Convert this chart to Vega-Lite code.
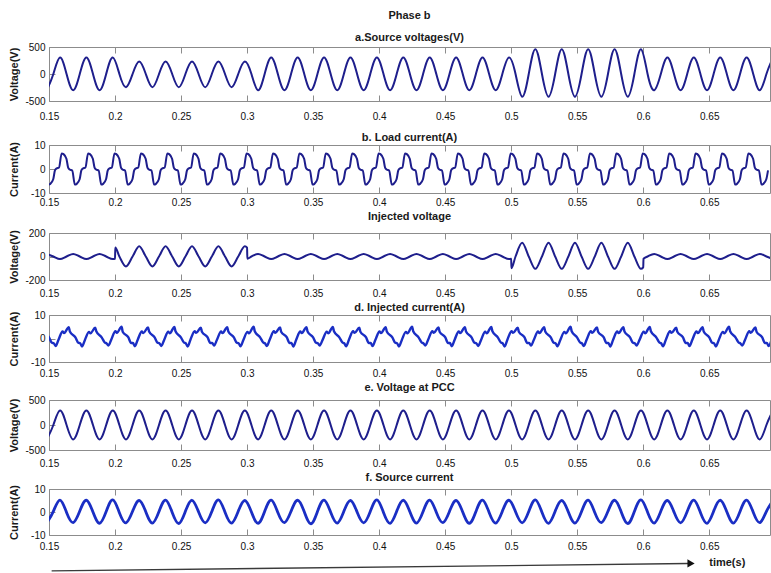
{"$schema":"https://vega.github.io/schema/vega-lite/v6.json","background":"white","padding":{"left":7,"top":9,"right":0,"bottom":0},"spacing":2,
"config":{"font":"Liberation Sans","view":{"stroke":"#8c8c8c","strokeWidth":1},"axis":{"domain":false,"ticks":false,"gridColor":"#8c8c8c","gridOpacity":1,"gridWidth":1,"labelFont":"Liberation Sans","labelFontSize":10,"labelColor":"#111111","titleFont":"Liberation Sans","titleFontSize":11,"titleFontWeight":"bold","titleColor":"#1a1a1a","labelFlush":false},"axisY":{"labelPadding":4,"minExtent":25,"maxExtent":25,"titlePadding":5},"title":{"font":"Liberation Sans","fontSize":11,"fontWeight":"bold","color":"#1a1a1a","anchor":"middle","frame":"group"}},
"datasets":{
"src":[{"t":0.1483,"v":-300},{"t":0.1533,"v":0},{"t":0.1583,"v":305},{"t":0.1633,"v":0},{"t":0.1683,"v":-300},{"t":0.1733,"v":0},{"t":0.1783,"v":305},{"t":0.1833,"v":0},{"t":0.1883,"v":-300},{"t":0.1933,"v":0},{"t":0.1983,"v":305},{"t":0.2033,"v":0},{"t":0.2083,"v":-245},{"t":0.2133,"v":0},{"t":0.2183,"v":232},{"t":0.2233,"v":0},{"t":0.2283,"v":-245},{"t":0.2333,"v":0},{"t":0.2383,"v":232},{"t":0.2433,"v":0},{"t":0.2483,"v":-245},{"t":0.2533,"v":0},{"t":0.2583,"v":232},{"t":0.2633,"v":0},{"t":0.2683,"v":-245},{"t":0.2733,"v":0},{"t":0.2783,"v":232},{"t":0.2833,"v":0},{"t":0.2883,"v":-245},{"t":0.2933,"v":0},{"t":0.2983,"v":232},{"t":0.3033,"v":0},{"t":0.3083,"v":-300},{"t":0.3133,"v":0},{"t":0.3183,"v":305},{"t":0.3233,"v":0},{"t":0.3283,"v":-300},{"t":0.3333,"v":0},{"t":0.3383,"v":305},{"t":0.3433,"v":0},{"t":0.3483,"v":-300},{"t":0.3533,"v":0},{"t":0.3583,"v":305},{"t":0.3633,"v":0},{"t":0.3683,"v":-300},{"t":0.3733,"v":0},{"t":0.3783,"v":305},{"t":0.3833,"v":0},{"t":0.3883,"v":-300},{"t":0.3933,"v":0},{"t":0.3983,"v":305},{"t":0.4033,"v":0},{"t":0.4083,"v":-300},{"t":0.4133,"v":0},{"t":0.4183,"v":305},{"t":0.4233,"v":0},{"t":0.4283,"v":-300},{"t":0.4333,"v":0},{"t":0.4383,"v":305},{"t":0.4433,"v":0},{"t":0.4483,"v":-300},{"t":0.4533,"v":0},{"t":0.4583,"v":305},{"t":0.4633,"v":0},{"t":0.4683,"v":-300},{"t":0.4733,"v":0},{"t":0.4783,"v":305},{"t":0.4833,"v":0},{"t":0.4883,"v":-300},{"t":0.4933,"v":0},{"t":0.4983,"v":305},{"t":0.5033,"v":0},{"t":0.5083,"v":-420},{"t":0.5133,"v":0},{"t":0.5183,"v":460},{"t":0.5233,"v":0},{"t":0.5283,"v":-420},{"t":0.5333,"v":0},{"t":0.5383,"v":460},{"t":0.5433,"v":0},{"t":0.5483,"v":-420},{"t":0.5533,"v":0},{"t":0.5583,"v":460},{"t":0.5633,"v":0},{"t":0.5683,"v":-420},{"t":0.5733,"v":0},{"t":0.5783,"v":460},{"t":0.5833,"v":0},{"t":0.5883,"v":-420},{"t":0.5933,"v":0},{"t":0.5983,"v":460},{"t":0.6033,"v":0},{"t":0.6083,"v":-300},{"t":0.6133,"v":0},{"t":0.6183,"v":305},{"t":0.6233,"v":0},{"t":0.6283,"v":-300},{"t":0.6333,"v":0},{"t":0.6383,"v":305},{"t":0.6433,"v":0},{"t":0.6483,"v":-300},{"t":0.6533,"v":0},{"t":0.6583,"v":305},{"t":0.6633,"v":0},{"t":0.6683,"v":-300},{"t":0.6733,"v":0},{"t":0.6783,"v":305},{"t":0.6833,"v":0},{"t":0.6883,"v":-300},{"t":0.6933,"v":0},{"t":0.6983,"v":305}],
"pcc":[{"t":0.1483,"v":-288},{"t":0.1533,"v":0},{"t":0.1583,"v":290},{"t":0.1633,"v":0},{"t":0.1683,"v":-288},{"t":0.1733,"v":0},{"t":0.1783,"v":290},{"t":0.1833,"v":0},{"t":0.1883,"v":-288},{"t":0.1933,"v":0},{"t":0.1983,"v":290},{"t":0.2033,"v":0},{"t":0.2083,"v":-288},{"t":0.2133,"v":0},{"t":0.2183,"v":290},{"t":0.2233,"v":0},{"t":0.2283,"v":-288},{"t":0.2333,"v":0},{"t":0.2383,"v":290},{"t":0.2433,"v":0},{"t":0.2483,"v":-288},{"t":0.2533,"v":0},{"t":0.2583,"v":290},{"t":0.2633,"v":0},{"t":0.2683,"v":-288},{"t":0.2733,"v":0},{"t":0.2783,"v":290},{"t":0.2833,"v":0},{"t":0.2883,"v":-288},{"t":0.2933,"v":0},{"t":0.2983,"v":290},{"t":0.3033,"v":0},{"t":0.3083,"v":-288},{"t":0.3133,"v":0},{"t":0.3183,"v":290},{"t":0.3233,"v":0},{"t":0.3283,"v":-288},{"t":0.3333,"v":0},{"t":0.3383,"v":290},{"t":0.3433,"v":0},{"t":0.3483,"v":-288},{"t":0.3533,"v":0},{"t":0.3583,"v":290},{"t":0.3633,"v":0},{"t":0.3683,"v":-288},{"t":0.3733,"v":0},{"t":0.3783,"v":290},{"t":0.3833,"v":0},{"t":0.3883,"v":-288},{"t":0.3933,"v":0},{"t":0.3983,"v":290},{"t":0.4033,"v":0},{"t":0.4083,"v":-288},{"t":0.4133,"v":0},{"t":0.4183,"v":290},{"t":0.4233,"v":0},{"t":0.4283,"v":-288},{"t":0.4333,"v":0},{"t":0.4383,"v":290},{"t":0.4433,"v":0},{"t":0.4483,"v":-288},{"t":0.4533,"v":0},{"t":0.4583,"v":290},{"t":0.4633,"v":0},{"t":0.4683,"v":-288},{"t":0.4733,"v":0},{"t":0.4783,"v":290},{"t":0.4833,"v":0},{"t":0.4883,"v":-288},{"t":0.4933,"v":0},{"t":0.4983,"v":290},{"t":0.5033,"v":0},{"t":0.5083,"v":-288},{"t":0.5133,"v":0},{"t":0.5183,"v":290},{"t":0.5233,"v":0},{"t":0.5283,"v":-288},{"t":0.5333,"v":0},{"t":0.5383,"v":290},{"t":0.5433,"v":0},{"t":0.5483,"v":-288},{"t":0.5533,"v":0},{"t":0.5583,"v":290},{"t":0.5633,"v":0},{"t":0.5683,"v":-288},{"t":0.5733,"v":0},{"t":0.5783,"v":290},{"t":0.5833,"v":0},{"t":0.5883,"v":-288},{"t":0.5933,"v":0},{"t":0.5983,"v":290},{"t":0.6033,"v":0},{"t":0.6083,"v":-288},{"t":0.6133,"v":0},{"t":0.6183,"v":290},{"t":0.6233,"v":0},{"t":0.6283,"v":-288},{"t":0.6333,"v":0},{"t":0.6383,"v":290},{"t":0.6433,"v":0},{"t":0.6483,"v":-288},{"t":0.6533,"v":0},{"t":0.6583,"v":290},{"t":0.6633,"v":0},{"t":0.6683,"v":-288},{"t":0.6733,"v":0},{"t":0.6783,"v":290},{"t":0.6833,"v":0},{"t":0.6883,"v":-288},{"t":0.6933,"v":0},{"t":0.6983,"v":290}],
"srci":[{"t":0.1483,"v":-4.8},{"t":0.1533,"v":0.3},{"t":0.1583,"v":5.2},{"t":0.1633,"v":-0.2},{"t":0.1683,"v":-4.6},{"t":0.1733,"v":0.4},{"t":0.1783,"v":5.1},{"t":0.1833,"v":0},{"t":0.1883,"v":-4.9},{"t":0.1933,"v":0.2},{"t":0.1983,"v":5.3},{"t":0.2033,"v":-0.3},{"t":0.2083,"v":-4.7},{"t":0.2133,"v":0.3},{"t":0.2183,"v":5.0},{"t":0.2233,"v":0.1},{"t":0.2283,"v":-4.8},{"t":0.2333,"v":0.2},{"t":0.2383,"v":5.2},{"t":0.2433,"v":-0.2},{"t":0.2483,"v":-5.0},{"t":0.2533,"v":0.3},{"t":0.2583,"v":5.1},{"t":0.2633,"v":0},{"t":0.2683,"v":-4.7},{"t":0.2733,"v":0.2},{"t":0.2783,"v":5.3},{"t":0.2833,"v":-0.1},{"t":0.2883,"v":-4.8},{"t":0.2933,"v":0.3},{"t":0.2983,"v":5.0},{"t":0.3033,"v":0},{"t":0.3083,"v":-4.9},{"t":0.3133,"v":0.2},{"t":0.3183,"v":5.2},{"t":0.3233,"v":-0.2},{"t":0.3283,"v":-4.6},{"t":0.3333,"v":0.3},{"t":0.3383,"v":5.1},{"t":0.3433,"v":0.1},{"t":0.3483,"v":-5.1},{"t":0.3533,"v":0.2},{"t":0.3583,"v":5.2},{"t":0.3633,"v":-0.1},{"t":0.3683,"v":-4.8},{"t":0.3733,"v":0.3},{"t":0.3783,"v":5.0},{"t":0.3833,"v":0},{"t":0.3883,"v":-4.7},{"t":0.3933,"v":0.2},{"t":0.3983,"v":5.3},{"t":0.4033,"v":-0.2},{"t":0.4083,"v":-4.9},{"t":0.4133,"v":0.3},{"t":0.4183,"v":5.1},{"t":0.4233,"v":0.1},{"t":0.4283,"v":-4.8},{"t":0.4333,"v":0.2},{"t":0.4383,"v":5.2},{"t":0.4433,"v":-0.1},{"t":0.4483,"v":-4.6},{"t":0.4533,"v":0.3},{"t":0.4583,"v":5.0},{"t":0.4633,"v":0},{"t":0.4683,"v":-4.9},{"t":0.4733,"v":0.2},{"t":0.4783,"v":5.2},{"t":0.4833,"v":-0.2},{"t":0.4883,"v":-4.8},{"t":0.4933,"v":0.3},{"t":0.4983,"v":5.1},{"t":0.5033,"v":0.1},{"t":0.5083,"v":-4.7},{"t":0.5133,"v":0.2},{"t":0.5183,"v":5.3},{"t":0.5233,"v":-0.1},{"t":0.5283,"v":-4.9},{"t":0.5333,"v":0.3},{"t":0.5383,"v":5.0},{"t":0.5433,"v":0},{"t":0.5483,"v":-4.8},{"t":0.5533,"v":0.2},{"t":0.5583,"v":5.2},{"t":0.5633,"v":-0.2},{"t":0.5683,"v":-4.6},{"t":0.5733,"v":0.3},{"t":0.5783,"v":5.1},{"t":0.5833,"v":0.1},{"t":0.5883,"v":-5.0},{"t":0.5933,"v":0.2},{"t":0.5983,"v":5.3},{"t":0.6033,"v":-0.1},{"t":0.6083,"v":-4.8},{"t":0.6133,"v":0.3},{"t":0.6183,"v":5.0},{"t":0.6233,"v":0},{"t":0.6283,"v":-4.7},{"t":0.6333,"v":0.2},{"t":0.6383,"v":5.2},{"t":0.6433,"v":-0.2},{"t":0.6483,"v":-4.9},{"t":0.6533,"v":0.3},{"t":0.6583,"v":5.1},{"t":0.6633,"v":0.1},{"t":0.6683,"v":-4.8},{"t":0.6733,"v":0.2},{"t":0.6783,"v":5.2},{"t":0.6833,"v":-0.1},{"t":0.6883,"v":-4.6},{"t":0.6933,"v":0.3},{"t":0.6983,"v":5.0}],
"injv":[{"t":0.1483,"v":22},{"t":0.1533,"v":0},{"t":0.1583,"v":-22},{"t":0.1633,"v":0},{"t":0.1683,"v":22},{"t":0.1733,"v":0},{"t":0.1783,"v":-22},{"t":0.1833,"v":0},{"t":0.1883,"v":22},{"t":0.1933,"v":0},{"t":0.1983,"v":-22},{"t":0.2,"v":-19},{"t":0.2002,"v":76},{"t":0.2033,"v":0},{"t":0.2083,"v":-85},{"t":0.2133,"v":0},{"t":0.2183,"v":88},{"t":0.2233,"v":0},{"t":0.2283,"v":-85},{"t":0.2333,"v":0},{"t":0.2383,"v":88},{"t":0.2433,"v":0},{"t":0.2483,"v":-85},{"t":0.2533,"v":0},{"t":0.2583,"v":88},{"t":0.2633,"v":0},{"t":0.2683,"v":-85},{"t":0.2733,"v":0},{"t":0.2783,"v":88},{"t":0.2833,"v":0},{"t":0.2883,"v":-85},{"t":0.2933,"v":0},{"t":0.2983,"v":88},{"t":0.3,"v":76},{"t":0.3002,"v":-19},{"t":0.3033,"v":0},{"t":0.3083,"v":22},{"t":0.3133,"v":0},{"t":0.3183,"v":-22},{"t":0.3233,"v":0},{"t":0.3283,"v":22},{"t":0.3333,"v":0},{"t":0.3383,"v":-22},{"t":0.3433,"v":0},{"t":0.3483,"v":22},{"t":0.3533,"v":0},{"t":0.3583,"v":-22},{"t":0.3633,"v":0},{"t":0.3683,"v":22},{"t":0.3733,"v":0},{"t":0.3783,"v":-22},{"t":0.3833,"v":0},{"t":0.3883,"v":22},{"t":0.3933,"v":0},{"t":0.3983,"v":-22},{"t":0.4033,"v":0},{"t":0.4083,"v":22},{"t":0.4133,"v":0},{"t":0.4183,"v":-22},{"t":0.4233,"v":0},{"t":0.4283,"v":22},{"t":0.4333,"v":0},{"t":0.4383,"v":-22},{"t":0.4433,"v":0},{"t":0.4483,"v":22},{"t":0.4533,"v":0},{"t":0.4583,"v":-22},{"t":0.4633,"v":0},{"t":0.4683,"v":22},{"t":0.4733,"v":0},{"t":0.4783,"v":-22},{"t":0.4833,"v":0},{"t":0.4883,"v":22},{"t":0.4933,"v":0},{"t":0.4983,"v":-22},{"t":0.5,"v":-19},{"t":0.5002,"v":-100},{"t":0.5033,"v":0},{"t":0.5083,"v":117},{"t":0.5133,"v":0},{"t":0.5183,"v":-105},{"t":0.5233,"v":0},{"t":0.5283,"v":117},{"t":0.5333,"v":0},{"t":0.5383,"v":-105},{"t":0.5433,"v":0},{"t":0.5483,"v":117},{"t":0.5533,"v":0},{"t":0.5583,"v":-105},{"t":0.5633,"v":0},{"t":0.5683,"v":117},{"t":0.5733,"v":0},{"t":0.5783,"v":-105},{"t":0.5833,"v":0},{"t":0.5883,"v":117},{"t":0.5933,"v":0},{"t":0.5983,"v":-105},{"t":0.6,"v":-92},{"t":0.6002,"v":-19},{"t":0.6033,"v":0},{"t":0.6083,"v":22},{"t":0.6133,"v":0},{"t":0.6183,"v":-22},{"t":0.6233,"v":0},{"t":0.6283,"v":22},{"t":0.6333,"v":0},{"t":0.6383,"v":-22},{"t":0.6433,"v":0},{"t":0.6483,"v":22},{"t":0.6533,"v":0},{"t":0.6583,"v":-22},{"t":0.6633,"v":0},{"t":0.6683,"v":22},{"t":0.6733,"v":0},{"t":0.6783,"v":-22},{"t":0.6833,"v":0},{"t":0.6883,"v":22},{"t":0.6933,"v":0},{"t":0.6983,"v":-22}],
"load":[{"t":0.1457,"v":-0.2},{"t":0.1476,"v":-0.6},{"t":0.1496,"v":-6.5},{"t":0.151,"v":-6.2},{"t":0.1532,"v":-4.3},{"t":0.1545,"v":-0.6},
{"t":0.1557,"v":0.2},{"t":0.1576,"v":0.6},{"t":0.1596,"v":6.5},{"t":0.161,"v":6.2},{"t":0.1632,"v":4.3},{"t":0.1645,"v":0.6},
{"t":0.1657,"v":-0.2},{"t":0.1676,"v":-0.6},{"t":0.1696,"v":-6.5},{"t":0.171,"v":-6.2},{"t":0.1732,"v":-4.3},{"t":0.1745,"v":-0.6},
{"t":0.1757,"v":0.2},{"t":0.1776,"v":0.6},{"t":0.1796,"v":6.5},{"t":0.181,"v":6.2},{"t":0.1832,"v":4.3},{"t":0.1845,"v":0.6},
{"t":0.1857,"v":-0.2},{"t":0.1876,"v":-0.6},{"t":0.1896,"v":-6.5},{"t":0.191,"v":-6.2},{"t":0.1932,"v":-4.3},{"t":0.1945,"v":-0.6},
{"t":0.1957,"v":0.2},{"t":0.1976,"v":0.6},{"t":0.1996,"v":6.5},{"t":0.201,"v":6.2},{"t":0.2032,"v":4.3},{"t":0.2045,"v":0.6},
{"t":0.2057,"v":-0.2},{"t":0.2076,"v":-0.6},{"t":0.2096,"v":-6.5},{"t":0.211,"v":-6.2},{"t":0.2132,"v":-4.3},{"t":0.2145,"v":-0.6},
{"t":0.2157,"v":0.2},{"t":0.2176,"v":0.6},{"t":0.2196,"v":6.5},{"t":0.221,"v":6.2},{"t":0.2232,"v":4.3},{"t":0.2245,"v":0.6},
{"t":0.2257,"v":-0.2},{"t":0.2276,"v":-0.6},{"t":0.2296,"v":-6.5},{"t":0.231,"v":-6.2},{"t":0.2332,"v":-4.3},{"t":0.2345,"v":-0.6},
{"t":0.2357,"v":0.2},{"t":0.2376,"v":0.6},{"t":0.2396,"v":6.5},{"t":0.241,"v":6.2},{"t":0.2432,"v":4.3},{"t":0.2445,"v":0.6},
{"t":0.2457,"v":-0.2},{"t":0.2476,"v":-0.6},{"t":0.2496,"v":-6.5},{"t":0.251,"v":-6.2},{"t":0.2532,"v":-4.3},{"t":0.2545,"v":-0.6},
{"t":0.2557,"v":0.2},{"t":0.2576,"v":0.6},{"t":0.2596,"v":6.5},{"t":0.261,"v":6.2},{"t":0.2632,"v":4.3},{"t":0.2645,"v":0.6},
{"t":0.2657,"v":-0.2},{"t":0.2676,"v":-0.6},{"t":0.2696,"v":-6.5},{"t":0.271,"v":-6.2},{"t":0.2732,"v":-4.3},{"t":0.2745,"v":-0.6},
{"t":0.2757,"v":0.2},{"t":0.2776,"v":0.6},{"t":0.2796,"v":6.5},{"t":0.281,"v":6.2},{"t":0.2832,"v":4.3},{"t":0.2845,"v":0.6},
{"t":0.2857,"v":-0.2},{"t":0.2876,"v":-0.6},{"t":0.2896,"v":-6.5},{"t":0.291,"v":-6.2},{"t":0.2932,"v":-4.3},{"t":0.2945,"v":-0.6},
{"t":0.2957,"v":0.2},{"t":0.2976,"v":0.6},{"t":0.2996,"v":6.5},{"t":0.301,"v":6.2},{"t":0.3032,"v":4.3},{"t":0.3045,"v":0.6},
{"t":0.3057,"v":-0.2},{"t":0.3076,"v":-0.6},{"t":0.3096,"v":-6.5},{"t":0.311,"v":-6.2},{"t":0.3132,"v":-4.3},{"t":0.3145,"v":-0.6},
{"t":0.3157,"v":0.2},{"t":0.3176,"v":0.6},{"t":0.3196,"v":6.5},{"t":0.321,"v":6.2},{"t":0.3232,"v":4.3},{"t":0.3245,"v":0.6},
{"t":0.3257,"v":-0.2},{"t":0.3276,"v":-0.6},{"t":0.3296,"v":-6.5},{"t":0.331,"v":-6.2},{"t":0.3332,"v":-4.3},{"t":0.3345,"v":-0.6},
{"t":0.3357,"v":0.2},{"t":0.3376,"v":0.6},{"t":0.3396,"v":6.5},{"t":0.341,"v":6.2},{"t":0.3432,"v":4.3},{"t":0.3445,"v":0.6},
{"t":0.3457,"v":-0.2},{"t":0.3476,"v":-0.6},{"t":0.3496,"v":-6.5},{"t":0.351,"v":-6.2},{"t":0.3532,"v":-4.3},{"t":0.3545,"v":-0.6},
{"t":0.3557,"v":0.2},{"t":0.3576,"v":0.6},{"t":0.3596,"v":6.5},{"t":0.361,"v":6.2},{"t":0.3632,"v":4.3},{"t":0.3645,"v":0.6},
{"t":0.3657,"v":-0.2},{"t":0.3676,"v":-0.6},{"t":0.3696,"v":-6.5},{"t":0.371,"v":-6.2},{"t":0.3732,"v":-4.3},{"t":0.3745,"v":-0.6},
{"t":0.3757,"v":0.2},{"t":0.3776,"v":0.6},{"t":0.3796,"v":6.5},{"t":0.381,"v":6.2},{"t":0.3832,"v":4.3},{"t":0.3845,"v":0.6},
{"t":0.3857,"v":-0.2},{"t":0.3876,"v":-0.6},{"t":0.3896,"v":-6.5},{"t":0.391,"v":-6.2},{"t":0.3932,"v":-4.3},{"t":0.3945,"v":-0.6},
{"t":0.3957,"v":0.2},{"t":0.3976,"v":0.6},{"t":0.3996,"v":6.5},{"t":0.401,"v":6.2},{"t":0.4032,"v":4.3},{"t":0.4045,"v":0.6},
{"t":0.4057,"v":-0.2},{"t":0.4076,"v":-0.6},{"t":0.4096,"v":-6.5},{"t":0.411,"v":-6.2},{"t":0.4132,"v":-4.3},{"t":0.4145,"v":-0.6},
{"t":0.4157,"v":0.2},{"t":0.4176,"v":0.6},{"t":0.4196,"v":6.5},{"t":0.421,"v":6.2},{"t":0.4232,"v":4.3},{"t":0.4245,"v":0.6},
{"t":0.4257,"v":-0.2},{"t":0.4276,"v":-0.6},{"t":0.4296,"v":-6.5},{"t":0.431,"v":-6.2},{"t":0.4332,"v":-4.3},{"t":0.4345,"v":-0.6},
{"t":0.4357,"v":0.2},{"t":0.4376,"v":0.6},{"t":0.4396,"v":6.5},{"t":0.441,"v":6.2},{"t":0.4432,"v":4.3},{"t":0.4445,"v":0.6},
{"t":0.4457,"v":-0.2},{"t":0.4476,"v":-0.6},{"t":0.4496,"v":-6.5},{"t":0.451,"v":-6.2},{"t":0.4532,"v":-4.3},{"t":0.4545,"v":-0.6},
{"t":0.4557,"v":0.2},{"t":0.4576,"v":0.6},{"t":0.4596,"v":6.5},{"t":0.461,"v":6.2},{"t":0.4632,"v":4.3},{"t":0.4645,"v":0.6},
{"t":0.4657,"v":-0.2},{"t":0.4676,"v":-0.6},{"t":0.4696,"v":-6.5},{"t":0.471,"v":-6.2},{"t":0.4732,"v":-4.3},{"t":0.4745,"v":-0.6},
{"t":0.4757,"v":0.2},{"t":0.4776,"v":0.6},{"t":0.4796,"v":6.5},{"t":0.481,"v":6.2},{"t":0.4832,"v":4.3},{"t":0.4845,"v":0.6},
{"t":0.4857,"v":-0.2},{"t":0.4876,"v":-0.6},{"t":0.4896,"v":-6.5},{"t":0.491,"v":-6.2},{"t":0.4932,"v":-4.3},{"t":0.4945,"v":-0.6},
{"t":0.4957,"v":0.2},{"t":0.4976,"v":0.6},{"t":0.4996,"v":6.5},{"t":0.501,"v":6.2},{"t":0.5032,"v":4.3},{"t":0.5045,"v":0.6},
{"t":0.5057,"v":-0.2},{"t":0.5076,"v":-0.6},{"t":0.5096,"v":-6.5},{"t":0.511,"v":-6.2},{"t":0.5132,"v":-4.3},{"t":0.5145,"v":-0.6},
{"t":0.5157,"v":0.2},{"t":0.5176,"v":0.6},{"t":0.5196,"v":6.5},{"t":0.521,"v":6.2},{"t":0.5232,"v":4.3},{"t":0.5245,"v":0.6},
{"t":0.5257,"v":-0.2},{"t":0.5276,"v":-0.6},{"t":0.5296,"v":-6.5},{"t":0.531,"v":-6.2},{"t":0.5332,"v":-4.3},{"t":0.5345,"v":-0.6},
{"t":0.5357,"v":0.2},{"t":0.5376,"v":0.6},{"t":0.5396,"v":6.5},{"t":0.541,"v":6.2},{"t":0.5432,"v":4.3},{"t":0.5445,"v":0.6},
{"t":0.5457,"v":-0.2},{"t":0.5476,"v":-0.6},{"t":0.5496,"v":-6.5},{"t":0.551,"v":-6.2},{"t":0.5532,"v":-4.3},{"t":0.5545,"v":-0.6},
{"t":0.5557,"v":0.2},{"t":0.5576,"v":0.6},{"t":0.5596,"v":6.5},{"t":0.561,"v":6.2},{"t":0.5632,"v":4.3},{"t":0.5645,"v":0.6},
{"t":0.5657,"v":-0.2},{"t":0.5676,"v":-0.6},{"t":0.5696,"v":-6.5},{"t":0.571,"v":-6.2},{"t":0.5732,"v":-4.3},{"t":0.5745,"v":-0.6},
{"t":0.5757,"v":0.2},{"t":0.5776,"v":0.6},{"t":0.5796,"v":6.5},{"t":0.581,"v":6.2},{"t":0.5832,"v":4.3},{"t":0.5845,"v":0.6},
{"t":0.5857,"v":-0.2},{"t":0.5876,"v":-0.6},{"t":0.5896,"v":-6.5},{"t":0.591,"v":-6.2},{"t":0.5932,"v":-4.3},{"t":0.5945,"v":-0.6},
{"t":0.5957,"v":0.2},{"t":0.5976,"v":0.6},{"t":0.5996,"v":6.5},{"t":0.601,"v":6.2},{"t":0.6032,"v":4.3},{"t":0.6045,"v":0.6},
{"t":0.6057,"v":-0.2},{"t":0.6076,"v":-0.6},{"t":0.6096,"v":-6.5},{"t":0.611,"v":-6.2},{"t":0.6132,"v":-4.3},{"t":0.6145,"v":-0.6},
{"t":0.6157,"v":0.2},{"t":0.6176,"v":0.6},{"t":0.6196,"v":6.5},{"t":0.621,"v":6.2},{"t":0.6232,"v":4.3},{"t":0.6245,"v":0.6},
{"t":0.6257,"v":-0.2},{"t":0.6276,"v":-0.6},{"t":0.6296,"v":-6.5},{"t":0.631,"v":-6.2},{"t":0.6332,"v":-4.3},{"t":0.6345,"v":-0.6},
{"t":0.6357,"v":0.2},{"t":0.6376,"v":0.6},{"t":0.6396,"v":6.5},{"t":0.641,"v":6.2},{"t":0.6432,"v":4.3},{"t":0.6445,"v":0.6},
{"t":0.6457,"v":-0.2},{"t":0.6476,"v":-0.6},{"t":0.6496,"v":-6.5},{"t":0.651,"v":-6.2},{"t":0.6532,"v":-4.3},{"t":0.6545,"v":-0.6},
{"t":0.6557,"v":0.2},{"t":0.6576,"v":0.6},{"t":0.6596,"v":6.5},{"t":0.661,"v":6.2},{"t":0.6632,"v":4.3},{"t":0.6645,"v":0.6},
{"t":0.6657,"v":-0.2},{"t":0.6676,"v":-0.6},{"t":0.6696,"v":-6.5},{"t":0.671,"v":-6.2},{"t":0.6732,"v":-4.3},{"t":0.6745,"v":-0.6},
{"t":0.6757,"v":0.2},{"t":0.6776,"v":0.6},{"t":0.6796,"v":6.5},{"t":0.681,"v":6.2},{"t":0.6832,"v":4.3},{"t":0.6845,"v":0.6},
{"t":0.6857,"v":-0.2},{"t":0.6876,"v":-0.6},{"t":0.6896,"v":-6.5},{"t":0.691,"v":-6.2},{"t":0.6932,"v":-4.3},{"t":0.6945,"v":-0.6}],
"inji":[{"t":0.1458,"v":3.0},{"t":0.15,"v":0.5},{"t":0.1522,"v":-1.8},{"t":0.1536,"v":-2.0},
{"t":0.155,"v":-3.2},{"t":0.1572,"v":-0.5},{"t":0.1603,"v":3.0},{"t":0.1614,"v":2.3},{"t":0.165,"v":4.8},{"t":0.1658,"v":3.0},{"t":0.17,"v":0.5},{"t":0.1722,"v":-1.8},{"t":0.1736,"v":-2.0},
{"t":0.175,"v":-3.4},{"t":0.1772,"v":-0.6},{"t":0.1803,"v":2.8},{"t":0.1814,"v":2.2},{"t":0.185,"v":4.6},{"t":0.1858,"v":3.1},{"t":0.19,"v":0.4},{"t":0.1922,"v":-1.7},{"t":0.1936,"v":-2.1},
{"t":0.195,"v":-3.0},{"t":0.1972,"v":-0.4},{"t":0.2003,"v":3.1},{"t":0.2014,"v":2.4},{"t":0.205,"v":5.0},{"t":0.2058,"v":2.9},{"t":0.21,"v":0.6},{"t":0.2122,"v":-1.9},{"t":0.2136,"v":-1.9},
{"t":0.215,"v":-3.3},{"t":0.2172,"v":-0.5},{"t":0.2203,"v":3.0},{"t":0.2214,"v":2.3},{"t":0.225,"v":4.7},{"t":0.2258,"v":3.0},{"t":0.23,"v":0.5},{"t":0.2322,"v":-1.8},{"t":0.2336,"v":-2.0},
{"t":0.235,"v":-3.2},{"t":0.2372,"v":-0.6},{"t":0.2403,"v":2.9},{"t":0.2414,"v":2.2},{"t":0.245,"v":4.9},{"t":0.2458,"v":3.1},{"t":0.25,"v":0.4},{"t":0.2522,"v":-1.7},{"t":0.2536,"v":-2.1},
{"t":0.255,"v":-3.4},{"t":0.2572,"v":-0.4},{"t":0.2603,"v":3.1},{"t":0.2614,"v":2.4},{"t":0.265,"v":4.6},{"t":0.2658,"v":2.9},{"t":0.27,"v":0.6},{"t":0.2722,"v":-1.9},{"t":0.2736,"v":-1.9},
{"t":0.275,"v":-3.0},{"t":0.2772,"v":-0.5},{"t":0.2803,"v":3.0},{"t":0.2814,"v":2.3},{"t":0.285,"v":4.8},{"t":0.2858,"v":3.0},{"t":0.29,"v":0.5},{"t":0.2922,"v":-1.8},{"t":0.2936,"v":-2.0},
{"t":0.295,"v":-3.3},{"t":0.2972,"v":-0.6},{"t":0.3003,"v":2.8},{"t":0.3014,"v":2.2},{"t":0.305,"v":5.0},{"t":0.3058,"v":3.1},{"t":0.31,"v":0.4},{"t":0.3122,"v":-1.7},{"t":0.3136,"v":-2.1},
{"t":0.315,"v":-3.2},{"t":0.3172,"v":-0.4},{"t":0.3203,"v":3.1},{"t":0.3214,"v":2.4},{"t":0.325,"v":4.7},{"t":0.3258,"v":2.9},{"t":0.33,"v":0.6},{"t":0.3322,"v":-1.9},{"t":0.3336,"v":-1.9},
{"t":0.335,"v":-3.4},{"t":0.3372,"v":-0.5},{"t":0.3403,"v":3.0},{"t":0.3414,"v":2.3},{"t":0.345,"v":4.8},{"t":0.3458,"v":3.0},{"t":0.35,"v":0.5},{"t":0.3522,"v":-1.8},{"t":0.3536,"v":-2.0},
{"t":0.355,"v":-3.0},{"t":0.3572,"v":-0.6},{"t":0.3603,"v":2.9},{"t":0.3614,"v":2.2},{"t":0.365,"v":4.9},{"t":0.3658,"v":3.1},{"t":0.37,"v":0.4},{"t":0.3722,"v":-1.7},{"t":0.3736,"v":-2.1},
{"t":0.375,"v":-3.3},{"t":0.3772,"v":-0.4},{"t":0.3803,"v":3.1},{"t":0.3814,"v":2.4},{"t":0.385,"v":4.6},{"t":0.3858,"v":2.9},{"t":0.39,"v":0.6},{"t":0.3922,"v":-1.9},{"t":0.3936,"v":-1.9},
{"t":0.395,"v":-3.2},{"t":0.3972,"v":-0.5},{"t":0.4003,"v":3.0},{"t":0.4014,"v":2.3},{"t":0.405,"v":4.8},{"t":0.4058,"v":3.0},{"t":0.41,"v":0.5},{"t":0.4122,"v":-1.8},{"t":0.4136,"v":-2.0},
{"t":0.415,"v":-3.4},{"t":0.4172,"v":-0.6},{"t":0.4203,"v":2.8},{"t":0.4214,"v":2.2},{"t":0.425,"v":5.0},{"t":0.4258,"v":3.1},{"t":0.43,"v":0.4},{"t":0.4322,"v":-1.7},{"t":0.4336,"v":-2.1},
{"t":0.435,"v":-3.0},{"t":0.4372,"v":-0.4},{"t":0.4403,"v":3.1},{"t":0.4414,"v":2.4},{"t":0.445,"v":4.7},{"t":0.4458,"v":2.9},{"t":0.45,"v":0.6},{"t":0.4522,"v":-1.9},{"t":0.4536,"v":-1.9},
{"t":0.455,"v":-3.3},{"t":0.4572,"v":-0.5},{"t":0.4603,"v":3.0},{"t":0.4614,"v":2.3},{"t":0.465,"v":4.8},{"t":0.4658,"v":3.0},{"t":0.47,"v":0.5},{"t":0.4722,"v":-1.8},{"t":0.4736,"v":-2.0},
{"t":0.475,"v":-3.2},{"t":0.4772,"v":-0.6},{"t":0.4803,"v":2.9},{"t":0.4814,"v":2.2},{"t":0.485,"v":4.9},{"t":0.4858,"v":3.1},{"t":0.49,"v":0.4},{"t":0.4922,"v":-1.7},{"t":0.4936,"v":-2.1},
{"t":0.495,"v":-3.4},{"t":0.4972,"v":-0.4},{"t":0.5003,"v":3.1},{"t":0.5014,"v":2.4},{"t":0.505,"v":4.6},{"t":0.5058,"v":2.9},{"t":0.51,"v":0.6},{"t":0.5122,"v":-1.9},{"t":0.5136,"v":-1.9},
{"t":0.515,"v":-3.0},{"t":0.5172,"v":-0.5},{"t":0.5203,"v":3.0},{"t":0.5214,"v":2.3},{"t":0.525,"v":4.8},{"t":0.5258,"v":3.0},{"t":0.53,"v":0.5},{"t":0.5322,"v":-1.8},{"t":0.5336,"v":-2.0},
{"t":0.535,"v":-3.3},{"t":0.5372,"v":-0.6},{"t":0.5403,"v":2.8},{"t":0.5414,"v":2.2},{"t":0.545,"v":5.0},{"t":0.5458,"v":3.1},{"t":0.55,"v":0.4},{"t":0.5522,"v":-1.7},{"t":0.5536,"v":-2.1},
{"t":0.555,"v":-3.2},{"t":0.5572,"v":-0.4},{"t":0.5603,"v":3.1},{"t":0.5614,"v":2.4},{"t":0.565,"v":4.7},{"t":0.5658,"v":2.9},{"t":0.57,"v":0.6},{"t":0.5722,"v":-1.9},{"t":0.5736,"v":-1.9},
{"t":0.575,"v":-3.4},{"t":0.5772,"v":-0.5},{"t":0.5803,"v":3.0},{"t":0.5814,"v":2.3},{"t":0.585,"v":4.8},{"t":0.5858,"v":3.0},{"t":0.59,"v":0.5},{"t":0.5922,"v":-1.8},{"t":0.5936,"v":-2.0},
{"t":0.595,"v":-3.0},{"t":0.5972,"v":-0.6},{"t":0.6003,"v":2.9},{"t":0.6014,"v":2.2},{"t":0.605,"v":4.9},{"t":0.6058,"v":3.1},{"t":0.61,"v":0.4},{"t":0.6122,"v":-1.7},{"t":0.6136,"v":-2.1},
{"t":0.615,"v":-3.3},{"t":0.6172,"v":-0.4},{"t":0.6203,"v":3.1},{"t":0.6214,"v":2.4},{"t":0.625,"v":4.6},{"t":0.6258,"v":2.9},{"t":0.63,"v":0.6},{"t":0.6322,"v":-1.9},{"t":0.6336,"v":-1.9},
{"t":0.635,"v":-3.2},{"t":0.6372,"v":-0.5},{"t":0.6403,"v":3.0},{"t":0.6414,"v":2.3},{"t":0.645,"v":4.8},{"t":0.6458,"v":3.0},{"t":0.65,"v":0.5},{"t":0.6522,"v":-1.8},{"t":0.6536,"v":-2.0},
{"t":0.655,"v":-3.4},{"t":0.6572,"v":-0.6},{"t":0.6603,"v":2.8},{"t":0.6614,"v":2.2},{"t":0.665,"v":5.0},{"t":0.6658,"v":3.1},{"t":0.67,"v":0.4},{"t":0.6722,"v":-1.7},{"t":0.6736,"v":-2.1},
{"t":0.675,"v":-3.0},{"t":0.6772,"v":-0.4},{"t":0.6803,"v":3.1},{"t":0.6814,"v":2.4},{"t":0.685,"v":4.7},{"t":0.6858,"v":2.9},{"t":0.69,"v":0.6},{"t":0.6922,"v":-1.9},{"t":0.6936,"v":-1.9},
{"t":0.695,"v":-3.2},{"t":0.6972,"v":-0.5}],
"arrow":[{"t":0.152,"v":-25.6,"t2":0.634,"v2":-22.4}],
"head":[{"t":0.6362,"v":-22.35}],
"lbl":[{"t":0.65,"v":-22.2,"label":"time(s)"}]
},
"vconcat":[
{"width":721,"height":54,"title":{"text":"Phase b","subtitle":"a.Source voltages(V)","subtitleFont":"Liberation Sans","subtitleFontSize":11,"subtitleFontWeight":"bold","subtitleColor":"#1a1a1a","subtitlePadding":11,"offset":-1},
"data":{"name":"src"},"mark":{"type":"line","interpolate":"natural","clip":true,"color":"#1e1e8c","strokeWidth":2},
"encoding":{"x":{"field":"t","type":"quantitative","scale":{"domain":[0.15,0.696],"nice":false,"zero":false},"axis":{"values":[0.15,0.2,0.25,0.3,0.35,0.4,0.45,0.5,0.55,0.6,0.65],"labelExpr":"'' + datum.value","title":" ","titleFontSize":6,"titlePadding":1,"grid":true,"gridDash":[6,42,6],"labelPadding":10}},
"y":{"field":"v","type":"quantitative","scale":{"domain":[-500,500],"nice":false,"zero":false},"axis":{"values":[-500,0,500],"labelExpr":"'' + datum.value","title":"Voltage(V)","grid":true,"gridDash":[6,900]}}}},
{"width":721,"height":48,"title":{"text":"b. Load current(A)","offset":-3},
"data":{"name":"load"},"mark":{"type":"line","interpolate":"monotone","clip":true,"color":"#1e1e8c","strokeWidth":2},
"encoding":{"x":{"field":"t","type":"quantitative","scale":{"domain":[0.15,0.696],"nice":false,"zero":false},"axis":{"values":[0.15,0.2,0.25,0.3,0.35,0.4,0.45,0.5,0.55,0.6,0.65],"labelExpr":"'' + datum.value","title":null,"grid":true,"gridDash":[6,36,6],"labelPadding":4}},
"y":{"field":"v","type":"quantitative","scale":{"domain":[-10,10],"nice":false,"zero":false},"axis":{"values":[-10,0,10],"labelExpr":"'' + datum.value","title":"Current(A)","grid":true,"gridDash":[6,900]}}}},
{"width":721,"height":47,"title":{"text":"Injected voltage","offset":6},
"data":{"name":"injv"},"mark":{"type":"line","interpolate":"monotone","clip":true,"color":"#1e1e8c","strokeWidth":2},
"encoding":{"x":{"field":"t","type":"quantitative","scale":{"domain":[0.15,0.696],"nice":false,"zero":false},"axis":{"values":[0.15,0.2,0.25,0.3,0.35,0.4,0.45,0.5,0.55,0.6,0.65],"labelExpr":"'' + datum.value","title":null,"grid":true,"gridDash":[6,35,6],"labelPadding":8}},
"y":{"field":"v","type":"quantitative","scale":{"domain":[-200,200],"nice":false,"zero":false},"axis":{"values":[-200,0,200],"labelExpr":"'' + datum.value","title":"Voltage(V)","grid":true,"gridDash":[6,900]}}}},
{"width":721,"height":47,"title":{"text":"d. Injected current(A)","offset":-3},
"data":{"name":"inji"},"mark":{"type":"line","interpolate":"monotone","clip":true,"color":"#1a2ec4","strokeWidth":2.4},
"encoding":{"x":{"field":"t","type":"quantitative","scale":{"domain":[0.15,0.696],"nice":false,"zero":false},"axis":{"values":[0.15,0.2,0.25,0.3,0.35,0.4,0.45,0.5,0.55,0.6,0.65],"labelExpr":"'' + datum.value","title":null,"grid":true,"gridDash":[6,35,6],"labelPadding":6}},
"y":{"field":"v","type":"quantitative","scale":{"domain":[-10,10],"nice":false,"zero":false},"axis":{"values":[-10,0,10],"labelExpr":"'' + datum.value","title":"Current(A)","grid":true,"gridDash":[6,900]}}}},
{"width":721,"height":50,"title":{"text":"e. Voltage at PCC","offset":2},
"data":{"name":"pcc"},"mark":{"type":"line","interpolate":"natural","clip":true,"color":"#1e1e8c","strokeWidth":2},
"encoding":{"x":{"field":"t","type":"quantitative","scale":{"domain":[0.15,0.696],"nice":false,"zero":false},"axis":{"values":[0.15,0.2,0.25,0.3,0.35,0.4,0.45,0.5,0.55,0.6,0.65],"labelExpr":"'' + datum.value","title":null,"grid":true,"gridDash":[6,38,6],"labelPadding":8}},
"y":{"field":"v","type":"quantitative","scale":{"domain":[-500,500],"nice":false,"zero":false},"axis":{"values":[-500,0,500],"labelExpr":"'' + datum.value","title":"Voltage(V)","grid":true,"gridDash":[6,900]}}}},
{"width":721,"height":46,"title":{"text":"f. Source current","offset":1},
"layer":[
{"data":{"name":"srci"},"mark":{"type":"line","interpolate":"natural","clip":true,"color":"#1a2ec4","strokeWidth":2.8},
"encoding":{"x":{"field":"t","type":"quantitative","scale":{"domain":[0.15,0.696],"nice":false,"zero":false},"axis":{"values":[0.15,0.2,0.25,0.3,0.35,0.4,0.45,0.5,0.55,0.6,0.65],"labelExpr":"'' + datum.value","title":null,"grid":true,"gridDash":[6,34,6],"labelPadding":6}},
"y":{"field":"v","type":"quantitative","scale":{"domain":[-10,10],"nice":false,"zero":false},"axis":{"values":[-10,0,10],"labelExpr":"'' + datum.value","title":"Current(A)","grid":true,"gridDash":[6,900]}}}},
{"data":{"name":"arrow"},"mark":{"type":"rule","color":"#3a3a3a","strokeWidth":1.4},
"encoding":{"x":{"field":"t","type":"quantitative","scale":{"domain":[0.15,0.696],"nice":false,"zero":false},"axis":{"values":[0.15,0.2,0.25,0.3,0.35,0.4,0.45,0.5,0.55,0.6,0.65],"labelExpr":"'' + datum.value","title":null,"grid":true,"gridDash":[6,34,6],"labelPadding":6}},"x2":{"field":"t2"},
"y":{"field":"v","type":"quantitative","scale":{"domain":[-10,10],"nice":false,"zero":false},"axis":{"values":[-10,0,10],"labelExpr":"'' + datum.value","title":"Current(A)","grid":true,"gridDash":[6,900]}},"y2":{"field":"v2"}}},
{"data":{"name":"head"},"mark":{"type":"point","shape":"triangle-right","filled":true,"color":"#111111","opacity":1,"size":70},
"encoding":{"x":{"field":"t","type":"quantitative","scale":{"domain":[0.15,0.696],"nice":false,"zero":false},"axis":{"values":[0.15,0.2,0.25,0.3,0.35,0.4,0.45,0.5,0.55,0.6,0.65],"labelExpr":"'' + datum.value","title":null,"grid":true,"gridDash":[6,34,6],"labelPadding":6}},
"y":{"field":"v","type":"quantitative","scale":{"domain":[-10,10],"nice":false,"zero":false},"axis":{"values":[-10,0,10],"labelExpr":"'' + datum.value","title":"Current(A)","grid":true,"gridDash":[6,900]}}}},
{"data":{"name":"lbl"},"mark":{"type":"text","align":"left","baseline":"middle","font":"Liberation Sans","fontSize":11,"fontWeight":"bold","color":"#1a1a1a"},
"encoding":{"x":{"field":"t","type":"quantitative","scale":{"domain":[0.15,0.696],"nice":false,"zero":false},"axis":{"values":[0.15,0.2,0.25,0.3,0.35,0.4,0.45,0.5,0.55,0.6,0.65],"labelExpr":"'' + datum.value","title":null,"grid":true,"gridDash":[6,34,6],"labelPadding":6}},
"y":{"field":"v","type":"quantitative","scale":{"domain":[-10,10],"nice":false,"zero":false},"axis":{"values":[-10,0,10],"labelExpr":"'' + datum.value","title":"Current(A)","grid":true,"gridDash":[6,900]}},"text":{"field":"label"}}}
]}
]}
